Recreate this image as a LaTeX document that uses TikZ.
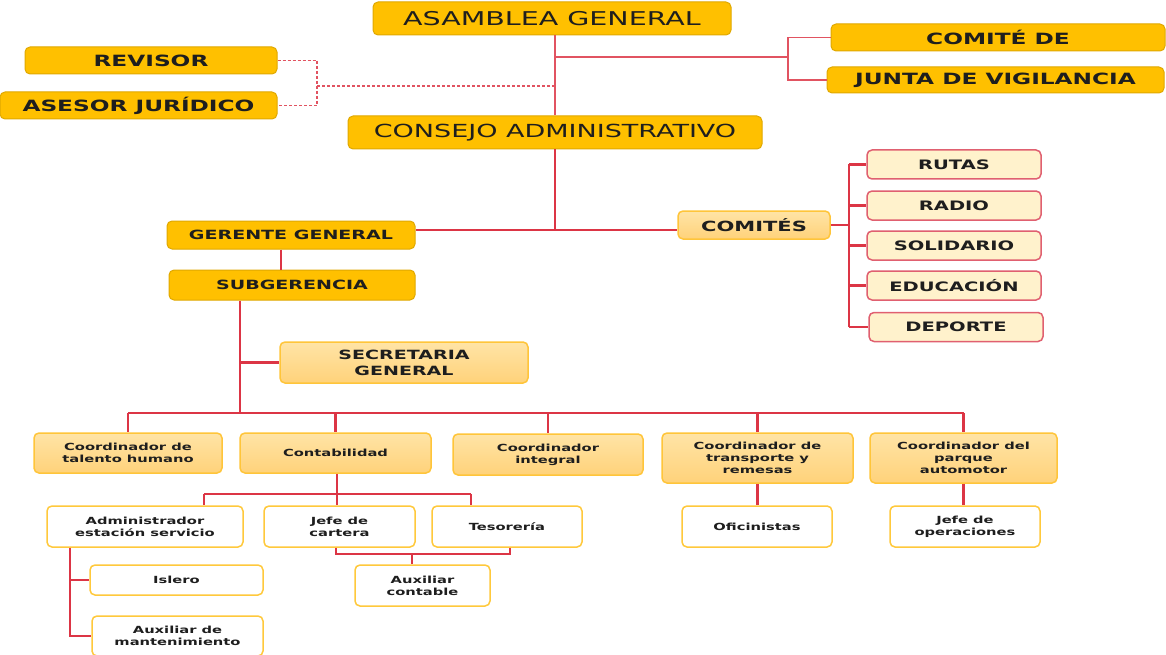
\documentclass[tikz,border=0pt]{standalone}
\usepackage{fontspec}
\setmainfont{DejaVu Sans}[FakeStretch=1.5]
\definecolor{gold}{HTML}{FFC000}
\definecolor{goldline}{HTML}{E0A800}
\definecolor{midtop}{HTML}{FFE4A6}
\definecolor{midbot}{HTML}{FFD27A}
\definecolor{midline}{HTML}{FFC53A}
\definecolor{cream}{HTML}{FFF2CC}
\definecolor{redline}{HTML}{DC3545}
\definecolor{pinkline}{HTML}{E06070}
\definecolor{wline}{HTML}{FFC93C}
\definecolor{txt}{HTML}{1E1E1E}
\tikzset{
  base/.style={rounded corners=5pt, inner sep=0pt, align=center, text=txt},
  sz/.style 2 args={minimum width=#1pt, minimum height=#2pt},
  topbox/.style={base, fill=gold, draw=goldline, line width=1pt, font=\bfseries\fontsize{15.5}{18}\selectfont},
  bigbox/.style={base, fill=gold, draw=goldline, line width=1pt, font=\fontsize{19}{22}\selectfont},
  gbox/.style={topbox, font=\bfseries\fontsize{12.7}{15}\selectfont},
  midbox/.style={base, top color=midtop, bottom color=midbot, draw=midline, line width=1.5pt, font=\bfseries\fontsize{12.7}{16}\selectfont},
  subbox/.style={base, fill=cream, draw=pinkline, line width=1.5pt, font=\bfseries\fontsize{13}{15}\selectfont},
  coordbox/.style={midbox, font=\bfseries\fontsize{9.8}{11.8}\selectfont},
  wbox/.style={base, fill=white, draw=wline, line width=1.5pt, font=\bfseries\fontsize{9.8}{11.8}\selectfont},
  conn/.style={draw=redline, line width=2.2pt},
  tconn/.style={draw=redline!85, line width=1.6pt},
  dconn/.style={draw=redline!85, line width=1.4pt, dash pattern=on 3pt off 2pt},
}
\begin{document}
\begin{tikzpicture}[x=1pt, y=-1pt]
\fill[white] (0,0) rectangle (1166,655);
\useasboundingbox (0,0) rectangle (1166,655);

% top level
\node[bigbox, sz={358}{33}] (AG) at (552,18.5) {ASAMBLEA GENERAL};
\node[topbox, sz={252}{27}] (REV) at (151,60.5) {REVISOR};
\node[topbox, sz={277}{27}] (ASE) at (138.5,105.5) {ASESOR JURÍDICO};
\node[topbox, sz={334}{27}] (CDE) at (998,37.5) {COMITÉ DE};
\node[topbox, sz={337}{26}] (JV) at (995.5,80) {JUNTA DE VIGILANCIA};
\node[bigbox, font=\fontsize{18}{22}\selectfont, sz={414}{33}] (CA) at (555,132.5) {CONSEJO ADMINISTRATIVO};
\node[gbox, sz={248}{28}] (GG) at (291,235) {GERENTE GENERAL};
\node[gbox, sz={246}{30}] (SUB) at (292,285) {SUBGERENCIA};
\node[midbox, sz={248}{41}] (SEC) at (404,362.5) {SECRETARIA\\GENERAL};
\node[midbox, font=\bfseries\fontsize{14}{16}\selectfont, sz={152}{28}] (COM) at (754,225) {COMITÉS};

% comites
\node[subbox, sz={174}{29}] (RUT) at (954,164.5) {RUTAS};
\node[subbox, sz={174}{29}] (RAD) at (954,205.5) {RADIO};
\node[subbox, sz={174}{29}] (SOL) at (954,245.5) {SOLIDARIO};
\node[subbox, sz={174}{29}] (EDU) at (954,285.5) {EDUCACIÓN};
\node[subbox, sz={174}{29}] (DEP) at (956,327) {DEPORTE};

% coordinators
\node[coordbox, sz={188}{40}] (TAL) at (128,453) {Coordinador de\\talento humano};
\node[coordbox, sz={191}{40}] (CON) at (335.5,453) {Contabilidad};
\node[coordbox, sz={190}{41}] (INT) at (548,454.5) {Coordinador\\integral};
\node[coordbox, sz={191}{50}] (TRA) at (757.5,458) {Coordinador de\\transporte y\\remesas};
\node[coordbox, sz={187}{50}] (PAR) at (963.5,458) {Coordinador del\\parque\\automotor};

% bottom
\node[wbox, sz={196}{41}] (ADM) at (145,526.5) {Administrador\\estación servicio};
\node[wbox, sz={151}{41}] (JEF) at (339.5,526.5) {Jefe de\\cartera};
\node[wbox, sz={150}{41}] (TES) at (507,526.5) {Tesorería};
\node[wbox, sz={150}{41}] (OFI) at (757,526.5) {Oficinistas};
\node[wbox, sz={150}{41}] (JOP) at (965,526.5) {Jefe de\\operaciones};
\node[wbox, sz={135}{41}] (AUX) at (422.5,585.5) {Auxiliar\\contable};
\node[wbox, sz={173}{30}] (ISL) at (176.5,580) {Islero};
\node[wbox, sz={171}{40}] (AMT) at (177.5,636) {Auxiliar de\\mantenimiento};

% top connectors
\draw[tconn] (CA.north |- AG.south) -- (CA.north);
\coordinate (J1) at (555,57);
\coordinate (B1) at (788,57);
\draw[tconn] (J1) -- (B1);
\draw[tconn] (CDE.west) -- (CDE.west -| B1) -- (JV.west -| B1) -- (JV.west);
\coordinate (D1) at (317,86);
\draw[dconn] (REV.east) -- (REV.east -| D1) -- (ASE.east -| D1) -- (ASE.east);
\draw[dconn] (D1) -- (D1 -| CA.north);

% trunk to gerente / comites
\coordinate (J2) at (555,230);
\draw[conn] (CA.south) -- (J2);
\draw[conn] (J2 -| GG.east) -- (J2 -| COM.west);
\coordinate (B2) at (849,225);
\draw[conn] (COM.east) -- (B2);
\draw[conn] (RUT.west -| B2) -- (DEP.west -| B2);
\foreach \n in {RUT,RAD,SOL,EDU,DEP} \draw[conn] (\n.west -| B2) -- (\n.west);

% gerente -> subgerencia
\coordinate (g1) at (281,240);
\draw[conn] (GG.south -| g1) -- (SUB.north -| g1);
\coordinate (S1) at (240,413);
\draw[conn] (SUB.south -| S1) -- (S1);
\draw[conn] (SEC.west -| S1) -- (SEC.west);
\draw[conn] (TAL.north |- S1) -- (PAR.north |- S1);
\foreach \n in {TAL,CON,INT,TRA,PAR} \draw[conn] (\n.north |- S1) -- (\n.north);

% contabilidad children
\coordinate (C1) at (337,494);
\coordinate (C2) at (204,494);
\coordinate (C3) at (471,494);
\draw[conn] (CON.south -| C1) -- (C1);
\draw[conn] (C2) -- (C3);
\draw[conn] (C2) -- (ADM.north -| C2);
\draw[conn] (C1) -- (JEF.north -| C1);
\draw[conn] (C3) -- (TES.north -| C3);
\coordinate (A1) at (336,554);
\coordinate (A2) at (510,554);
\coordinate (A3) at (412,554);
\draw[conn] (JEF.south -| A1) -- (A1) -- (A2) -- (TES.south -| A2);
\draw[conn] (A3) -- (AUX.north -| A3);

% administrador children
\coordinate (M1) at (70,560);
\draw[conn] (ADM.south -| M1) -- (AMT.west -| M1) -- (AMT.west);
\draw[conn] (ISL.west -| M1) -- (ISL.west);

% transporte / parque children
\draw[conn] (TRA.south) -- (TRA.south |- OFI.north);
\draw[conn] (PAR.south) -- (PAR.south |- JOP.north);
\end{tikzpicture}
\end{document}
